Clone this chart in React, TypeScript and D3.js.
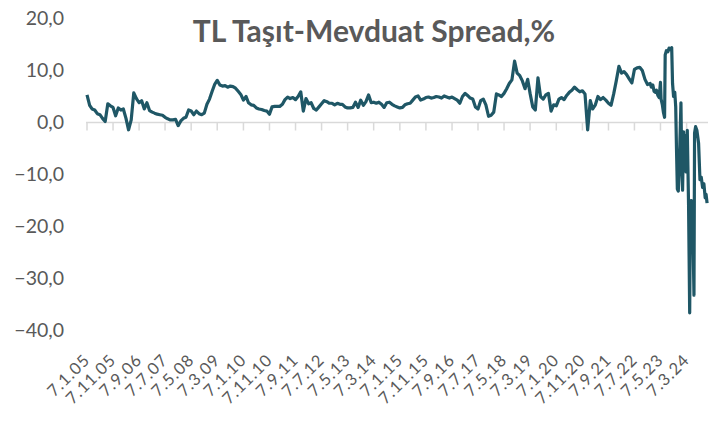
import * as d3 from "d3"

const title = "TL Taşıt-Mevduat Spread,%"

// monthly readings, Jan 2005 .. Dec 2022
const spreadMonthly = [
  5.3, 3.3, 2.6, 2.4, 1.7, 1.5, 0.8, 0.2, 3.6, 3.2,
  2.9, 1.3, 2.8, 2.4, 2.6, 0.8, -1.4, 0.5, 5.7, 4.6,
  3.8, 4.2, 2.6, 3.8, 2.3, 2.0, 1.8, 1.6, 1.5, 1.4,
  1.0, 0.7, 0.5, 0.5, 0.6, -0.6, 0.3, 0.8, 1.0, 2.4,
  2.2, 1.5, 2.2, 1.7, 1.5, 1.8, 3.5, 4.5, 6.0, 7.4,
  8.1, 7.2, 7.0, 7.1, 6.8, 7.0, 6.9, 6.6, 6.0, 5.4,
  4.3, 5.0, 3.8, 3.4, 3.3, 2.8, 2.6, 2.5, 2.3, 2.2,
  1.6, 3.0, 3.1, 3.1, 3.1, 3.5, 4.4, 4.9, 4.6, 4.8,
  4.4, 5.0, 5.9, 2.2, 4.6, 3.6, 3.8, 2.7, 2.4, 3.0,
  3.6, 4.2, 4.0, 3.7, 3.7, 3.4, 3.7, 3.5, 3.5, 3.0,
  2.8, 2.8, 2.9, 3.9, 2.9, 4.3, 3.3, 4.0, 5.3, 3.8,
  3.9, 3.7, 3.9, 3.5, 2.9, 3.8, 3.9, 3.5, 3.2, 3.0,
  2.8, 2.9, 3.4, 3.6, 3.7, 4.3, 4.9, 5.1, 4.3, 4.5,
  4.8, 4.9, 4.7, 4.8, 5.0, 4.9, 4.7, 5.1, 4.9, 4.7,
  4.9, 4.6, 4.3, 3.7, 5.0, 5.6, 5.2, 4.7, 4.5, 3.0,
  2.6, 4.2, 4.5, 3.4, 1.2, 1.4, 2.0, 5.5, 5.3, 5.0,
  5.6, 6.5, 7.5, 8.2, 11.8, 9.5, 9.0, 8.0, 6.5, 8.3,
  5.6, 3.0, 2.4, 8.6, 5.0, 4.5, 5.3, 5.6, 2.2, 3.4,
  3.2, 4.5, 4.8, 4.4, 5.2, 5.8, 6.2, 6.8, 6.3, 5.9,
  6.1, 5.5, -1.4, 4.2, 2.6, 3.4, 5.0, 4.4, 4.8, 4.3,
  3.7, 3.3, 5.5, 8.0, 10.8, 9.5, 9.8, 9.2, 8.4, 7.6,
  10.2, 10.5, 10.6, 10.0, 8.3, 7.3,
]

// denser readings for the volatile tail, 2023-2024
const tailDates = [
  "2023-01-07", "2023-01-21", "2023-02-07", "2023-02-21", "2023-03-07", "2023-03-21",
  "2023-04-07", "2023-04-21", "2023-05-07", "2023-05-14", "2023-05-28", "2023-06-10",
  "2023-06-24", "2023-07-01", "2023-07-15", "2023-08-01", "2023-08-15", "2023-09-01",
  "2023-09-15", "2023-09-25", "2023-10-07", "2023-10-21", "2023-11-01", "2023-11-10",
  "2023-11-20", "2023-12-01", "2023-12-15", "2024-01-01", "2024-01-10", "2024-01-20",
  "2024-02-01", "2024-02-10", "2024-02-20", "2024-03-01", "2024-03-15", "2024-03-30",
  "2024-04-12", "2024-04-20", "2024-04-30", "2024-05-15", "2024-06-01", "2024-06-08",
  "2024-06-20", "2024-07-05", "2024-07-25", "2024-08-10", "2024-08-25", "2024-09-10",
  "2024-09-25", "2024-10-10", "2024-10-20", "2024-11-01",
]
const tailValues = [
  7.5, 6.8, 7.2, 6.0, 5.8, 6.2,
  5.2, 4.8, 7.7, 4.5, 3.5, 2.0,
  1.0, 13.0, 13.8, 13.6, 14.3, 14.0,
  14.4, 7.5, 5.0, 5.8, 3.0, -5.0,
  -12.8, -13.2, -7.0, 3.8, -8.0, -13.0,
  -1.8, -8.0, -2.5, -9.5, -1.5, -16.0,
  -36.6, -16.5, -15.0, -16.0, -33.2, -2.0,
  -0.8, -1.5, -4.0, -11.0, -10.5, -12.5,
  -11.8, -14.5, -13.8, -15.5,
]

const xTickLabels = [
  "7.1.05", "7.11.05", "7.9.06", "7.7.07", "7.5.08", "7.3.09", "7.1.10", "7.11.10",
  "7.9.11", "7.7.12", "7.5.13", "7.3.14", "7.1.15", "7.11.15", "7.9.16", "7.7.17",
  "7.5.18", "7.3.19", "7.1.20", "7.11.20", "7.9.21", "7.7.22", "7.5.23", "7.3.24",
]
const yTicks = [20, 10, 0, -10, -20, -30, -40]

const W = 721
const H = 421
const lineColor = "#1f5766"
const textColor = "#595959"
const axisColor = "#d9d9d9"
const font = "Lato, 'Open Sans', sans-serif"

const parseTick = d3.timeParse("%-d.%-m.%y")
const parseIso = d3.timeParse("%Y-%m-%d")

export default function App() {
  const start = new Date(2005, 0, 7)
  const points: [Date, number][] = [
    ...spreadMonthly.map((v, i) => [d3.timeMonth.offset(start, i), v] as [Date, number]),
    ...tailDates.map((d, i) => [parseIso(d)!, tailValues[i]] as [Date, number]),
  ]
  const tickDates = xTickLabels.map((t) => parseTick(t)!)

  const x = d3.scaleTime()
    .domain([tickDates[0], tickDates[tickDates.length - 1]])
    .range([87, 686.6])
  const y = d3.scaleLinear().domain([-40, 20]).range([330.5, 18.5])

  const line = d3.line<[Date, number]>()
    .x((d) => x(d[0]))
    .y((d) => y(d[1]))

  const y0 = y(0)

  return (
    <svg
      width={W}
      height={H}
      style={{ position: "absolute", left: 0, top: 0, background: "#fff" }}
      fontFamily={font}
    >
      <text x={374} y={42} textAnchor="middle" fontSize={30} fontWeight={700} fill={textColor}>
        {title}
      </text>

      {yTicks.map((t) => (
        <text key={t} x={64} y={y(t)} dy="0.35em" textAnchor="end" fontSize={19.5} fill={textColor}>
          {d3.format(".1f")(t).replace(".", ",")}
        </text>
      ))}

      <line x1={86} x2={708} y1={y0} y2={y0} stroke={axisColor} strokeWidth={1.5} />
      {tickDates.map((d, i) => (
        <line key={i} x1={x(d)} x2={x(d)} y1={y0} y2={y0 + 8} stroke={axisColor} strokeWidth={1.5} />
      ))}

      {tickDates.map((d, i) => (
        <text
          key={xTickLabels[i]}
          transform={`translate(${x(d) + 4},${361}) rotate(-45)`}
          textAnchor="end"
          fontSize={16.5}
          letterSpacing={1}
          fill={textColor}
        >
          {xTickLabels[i]}
        </text>
      ))}

      <path d={line(points) || ""} fill="none" stroke={lineColor} strokeWidth={3.2} strokeLinejoin="round" />
    </svg>
  )
}
